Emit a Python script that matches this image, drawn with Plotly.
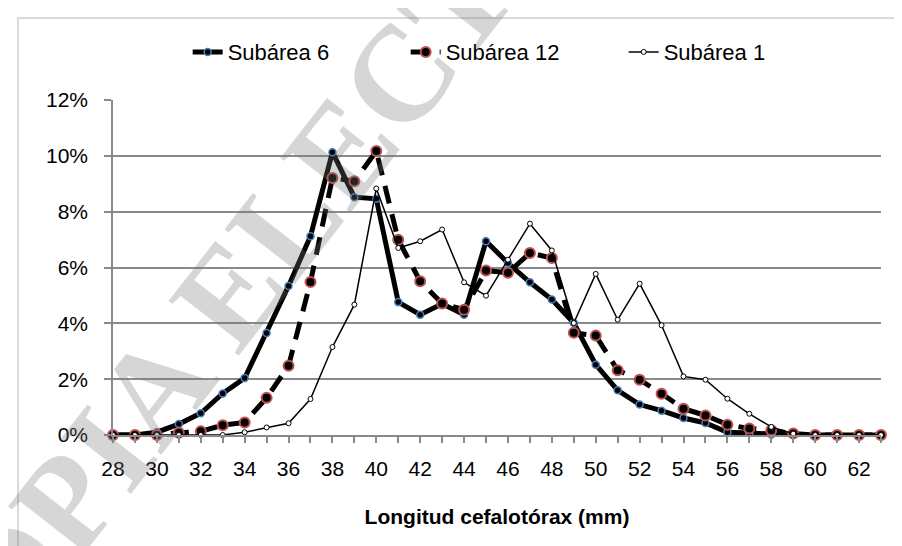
import plotly.graph_objects as go

longitud = list(range(28, 64))

subarea6 = [0.00, 0.00, 0.10, 0.39, 0.78, 1.49, 2.04, 3.65, 5.34, 7.12,
            10.13, 8.52, 8.46, 4.76, 4.31, 4.70, 4.31, 6.94, 6.16, 5.47,
            4.85, 4.01, 2.52, 1.60, 1.09, 0.87, 0.61, 0.43, 0.10, 0.07,
            0.02, 0.00, 0.00, 0.00, 0.00, 0.00]
subarea12 = [0.00, 0.00, 0.00, 0.08, 0.13, 0.35, 0.45, 1.33, 2.48, 5.48,
             9.21, 9.09, 10.17, 6.99, 5.51, 4.71, 4.49, 5.89, 5.81, 6.52,
             6.34, 3.66, 3.56, 2.32, 1.98, 1.48, 0.94, 0.70, 0.37, 0.23,
             0.17, 0.05, 0.00, 0.00, 0.00, 0.00]
subarea1 = [0.00, 0.00, 0.00, 0.00, 0.00, 0.00, 0.10, 0.27, 0.42, 1.29,
            3.15, 4.67, 8.83, 6.70, 6.94, 7.36, 5.47, 4.99, 6.28, 7.57,
            6.61, 4.01, 5.77, 4.13, 5.42, 3.93, 2.10, 1.98, 1.30, 0.76,
            0.29, 0.05, 0.00, 0.00, 0.00, 0.00]

series_names = ["Subárea 6", "Subárea 12", "Subárea 1"]
x_title = "Longitud cefalotórax (mm)"
watermark = "COPIA ELECTRÓNICA"

frac = lambda v: [a / 100 for a in v]

FONT = "Liberation Sans, Arial, sans-serif"
GRID = "#8a8a8a"

fig = go.Figure()
fig.add_trace(go.Scatter(
    x=longitud, y=frac(subarea6), name=series_names[0], mode="lines+markers",
    line=dict(color="black", width=5),
    marker=dict(symbol="circle", size=7, color="black",
                line=dict(color="#4a7ebb", width=1.5)),
    cliponaxis=False))
fig.add_trace(go.Scatter(
    x=longitud, y=frac(subarea12), name=series_names[1], mode="lines+markers",
    line=dict(color="black", width=5, dash="18px,11px"),
    marker=dict(symbol="circle", size=10, color="black",
                line=dict(color="#c0504d", width=2)),
    cliponaxis=False))
fig.add_trace(go.Scatter(
    x=longitud, y=frac(subarea1), name=series_names[2], mode="lines+markers",
    line=dict(color="black", width=1.5),
    marker=dict(symbol="circle", size=5, color="white",
                line=dict(color="black", width=1)),
    cliponaxis=False))

fig.update_layout(
    width=902, height=546, autosize=False,
    margin=dict(l=105, r=29, t=92, b=119),
    paper_bgcolor="white", plot_bgcolor="white",
    font=dict(family=FONT, size=21, color="black"),
    showlegend=True,
    legend=dict(orientation="h", x=0.523, xanchor="center", y=1.143,
                yanchor="middle", font=dict(size=22),
                entrywidth=173, entrywidthmode="pixels",
                traceorder="normal", bgcolor="rgba(0,0,0,0)"),
    hovermode=False,
    xaxis=dict(range=[28, 63], tick0=28, dtick=2, showgrid=False,
               showline=True, linecolor=GRID, linewidth=1.5,
               ticks="outside", ticklen=6, tickcolor=GRID, tickwidth=1.5,
               ticklabelstandoff=8,
               minor=dict(dtick=1, ticks="outside", ticklen=6,
                          tickcolor=GRID, tickwidth=1.5),
               zeroline=False,
               title=dict(text="<b>" + x_title + "</b>", font=dict(size=21),
                          standoff=30)),
    yaxis=dict(range=[0, 0.12], dtick=0.02, tickformat=".0%",
               showgrid=True, gridcolor=GRID, gridwidth=1.5,
               showline=True, linecolor=GRID, linewidth=1.5,
               ticks="outside", ticklen=7, tickcolor=GRID, tickwidth=1.5,
               ticklabelstandoff=12,
               zeroline=False),
)

# outer chart frame (top and left edges visible)
fig.add_shape(type="rect", xref="paper", yref="paper",
              x0=-0.1237, x1=1.2, y0=-0.5, y1=1.2448,
              line=dict(color="#d9d9d9", width=2), layer="below")

fig.add_annotation(text="<b>" + watermark + "</b>", xref="paper", yref="paper",
                   x=0.3346, y=0.961, xanchor="center", yanchor="middle",
                   textangle=-52, showarrow=False,
                   font=dict(family="Liberation Serif, Times New Roman, serif",
                             size=136, color="rgba(120,120,120,0.3)"))

fig.write_html("out.html", config={"displayModeBar": False})
